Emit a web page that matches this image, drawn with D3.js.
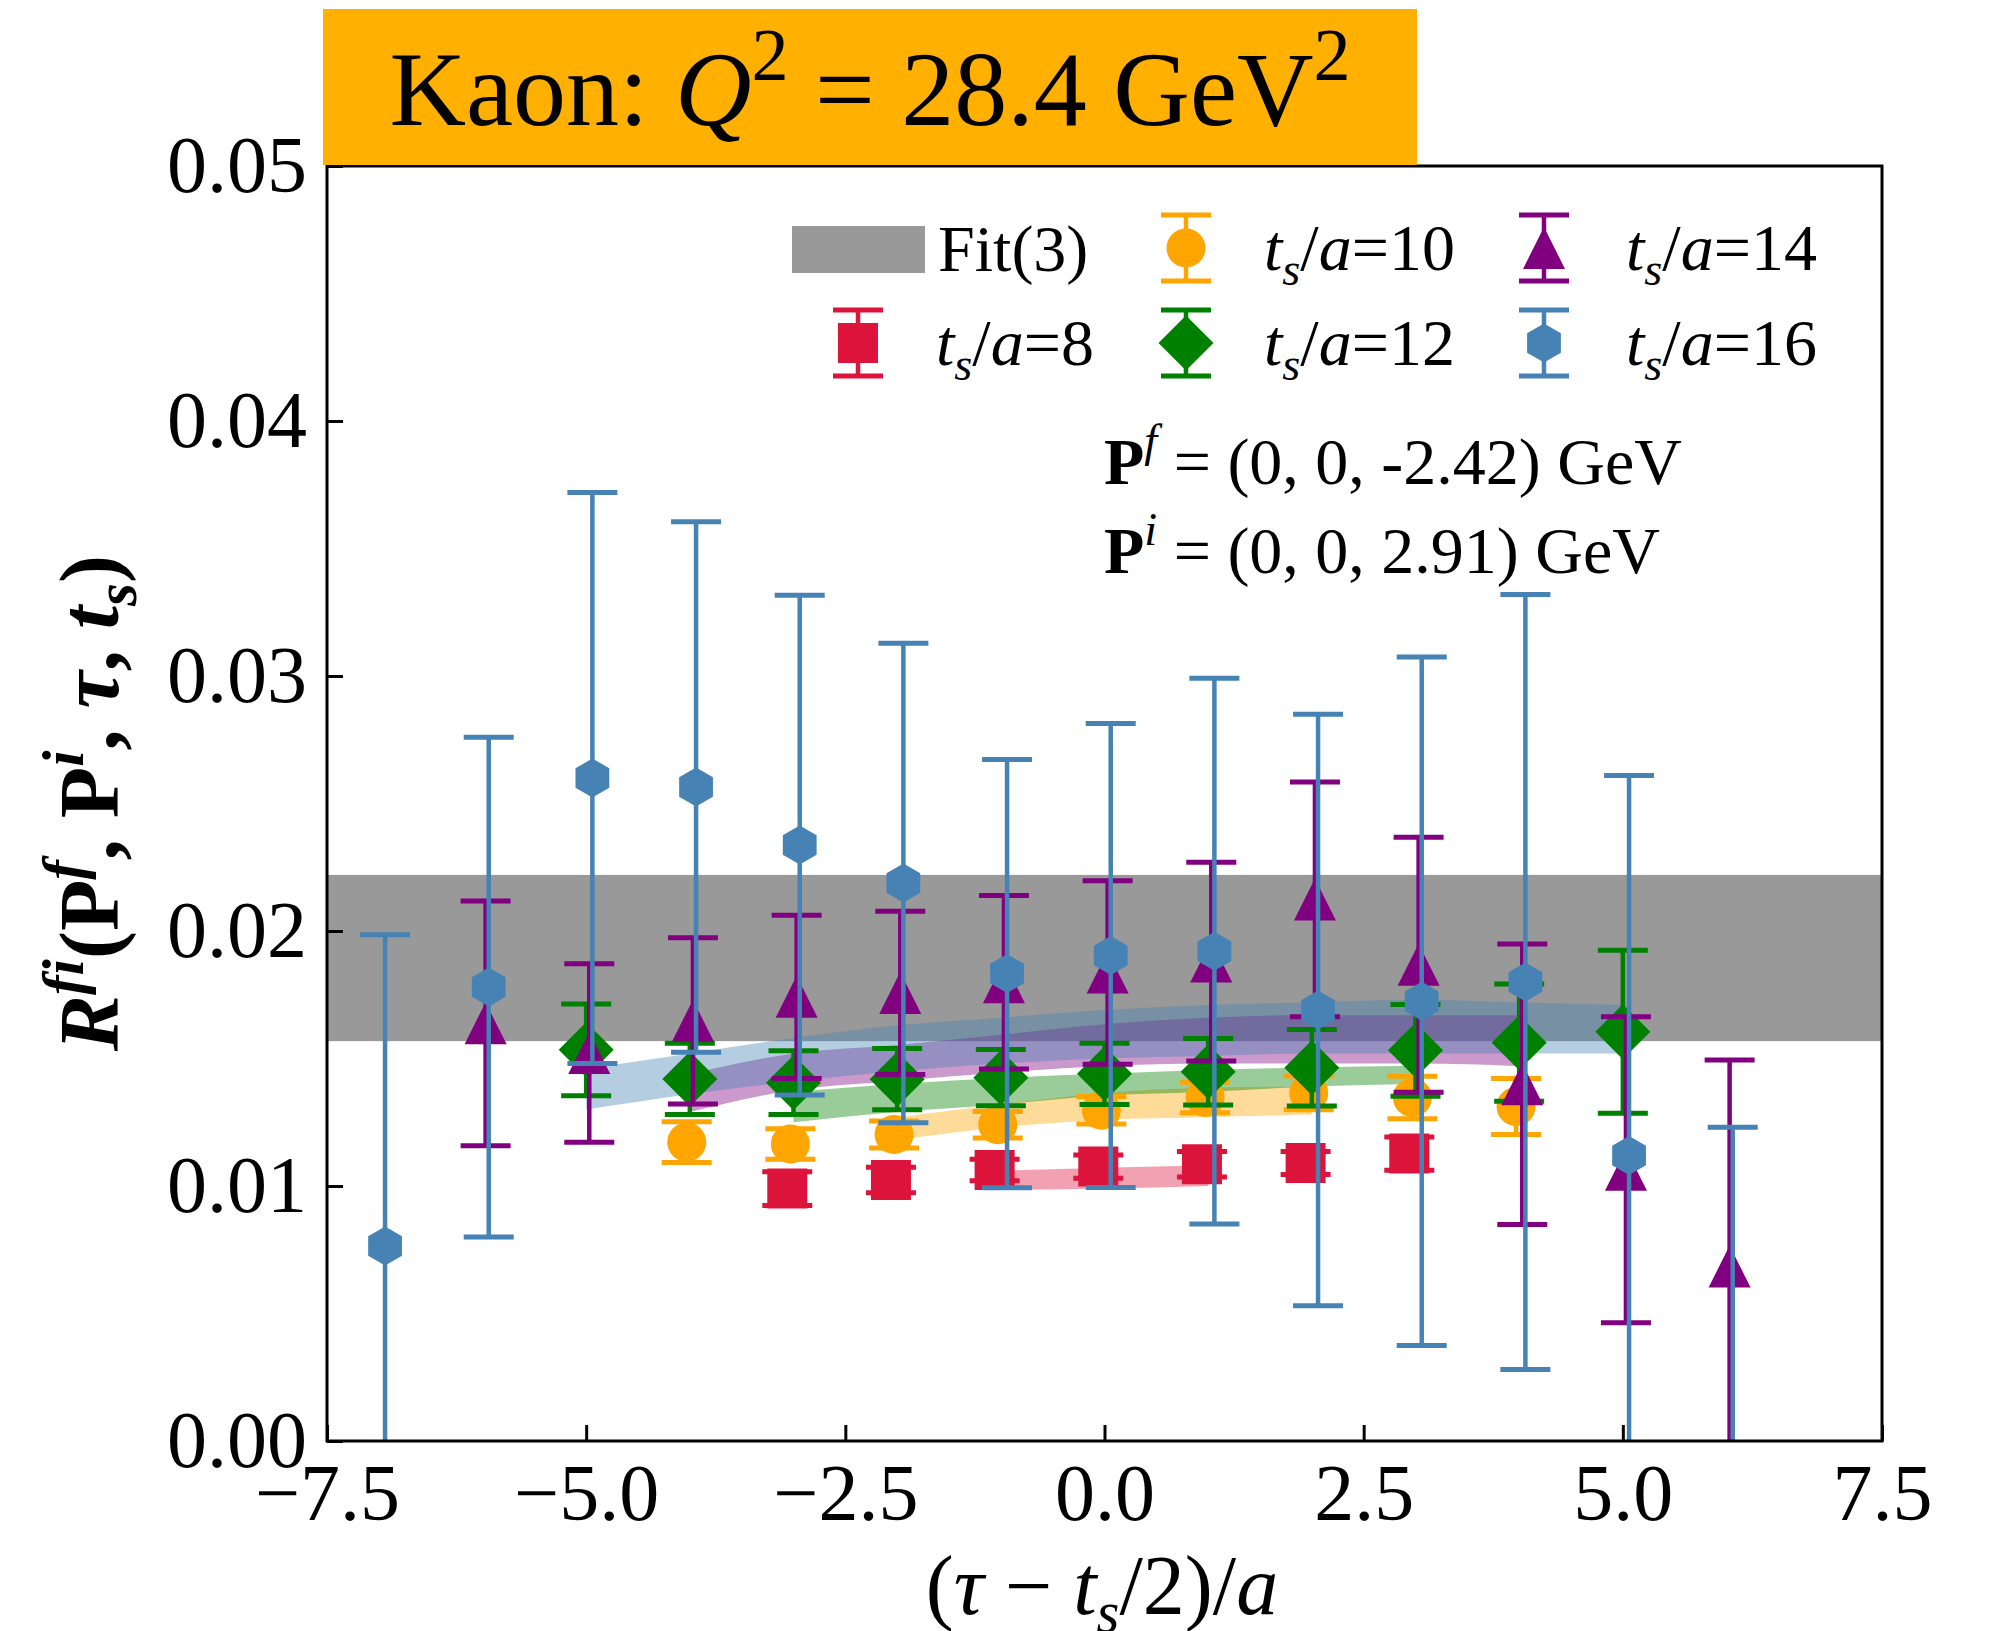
<!doctype html>
<html>
<head>
<meta charset="utf-8">
<style>
  body { margin: 0; background: #fff; }
  svg text { font-family: "Liberation Serif", "Times New Roman", serif; fill: #000; }
</style>
<script src="https://cdn.jsdelivr.net/npm/d3@7"></script>
</head>
<body>
<svg width="1994" height="1631"></svg>
<script>

// ---- data ----
var xTicks = [-7.5, -5, -2.5, 0, 2.5, 5, 7.5];
var yTicks = [0, 0.01, 0.02, 0.03, 0.04, 0.05];

var tau8  = [-3, -2, -1, 0, 1, 2, 3];
var val8  = [0.0099, 0.01024, 0.01063, 0.01076, 0.01085, 0.0109, 0.01127];
var err8  = [0.00066, 0.0005, 0.00042, 0.00046, 0.0005, 0.00045, 0.00065];

var tau10 = [-4, -3, -2, -1, 0, 1, 2, 3, 4];
var val10 = [0.01172, 0.01165, 0.01202, 0.0124, 0.01297, 0.01347, 0.01365, 0.01347, 0.01312];
var err10 = [0.0008, 0.0006, 0.00053, 0.00052, 0.00054, 0.0006, 0.00066, 0.00083, 0.0011];

var tau12 = [-5, -4, -3, -2, -1, 0, 1, 2, 3, 4, 5];
var val12 = [0.01534, 0.0142, 0.01405, 0.01419, 0.01425, 0.0144, 0.01448, 0.01464, 0.01532, 0.01562, 0.01605];
var err12 = [0.0018, 0.0014, 0.00125, 0.0012, 0.0011, 0.0012, 0.0013, 0.0015, 0.0018, 0.0023, 0.0032];

var tau14 = [-6, -5, -4, -3, -2, -1, 0, 1, 2, 3, 4, 5, 6];
var val14 = [0.01638, 0.01522, 0.01648, 0.01742, 0.01757, 0.01799, 0.01837, 0.0188, 0.02124, 0.01868, 0.01399, 0.01064, 0.00684];
var err14 = [0.0048, 0.0035, 0.00326, 0.0032, 0.0032, 0.0034, 0.0036, 0.0039, 0.0046, 0.005, 0.0055, 0.006, 0.0081];

var tau16 = [-7, -6, -5, -4, -3, -2, -1, 0, 1, 2, 3, 4, 5, 6];
var val16 = [0.00765, 0.0178, 0.026, 0.02565, 0.02337, 0.02188, 0.01833, 0.01904, 0.01921, 0.0169, 0.01725, 0.018, 0.0112, -0.0025];
var err16 = [0.0122, 0.0098, 0.0112, 0.0104, 0.0098, 0.0094, 0.0084, 0.0091, 0.0107, 0.0116, 0.0135, 0.0152, 0.0149, 0.0148];

// fit curves (lower / upper edge of each band)
var bandTau8  = [-1, 0, 1];
var bandLo8   = [0.00985, 0.0099, 0.01];
var bandHi8   = [0.0106, 0.01072, 0.0108];

var bandTau10 = [-2, -1, 0, 1, 2];
var bandLo10  = [0.0118, 0.0123, 0.0126, 0.0127, 0.0128];
var bandHi10  = [0.0127, 0.0132, 0.01365, 0.01385, 0.0139];

var bandTau12 = [-3, -2, -1, 0, 1, 2, 3];
var bandLo12  = [0.0125, 0.0129, 0.0132, 0.01355, 0.0137, 0.0139, 0.014];
var bandHi12  = [0.0137, 0.014, 0.01424, 0.0144, 0.01455, 0.01465, 0.01472];

var bandTau14 = [-4, -3, -2, -1, 0, 1, 2, 3, 4];
var bandLo14  = [0.0129, 0.01376, 0.01412, 0.01445, 0.0147, 0.0148, 0.0148, 0.0148, 0.0147];
var bandHi14  = [0.0144, 0.0152, 0.01553, 0.01593, 0.01634, 0.0166, 0.0167, 0.0167, 0.0167];

var bandTau16 = [-5, -4, -3, -2, -1, 0, 1, 2, 3, 4, 5];
var bandLo16  = [0.013, 0.0136, 0.0141, 0.0145, 0.0148, 0.015, 0.0151, 0.0152, 0.0152, 0.0152, 0.0152];
var bandHi16  = [0.0146, 0.0152, 0.0158, 0.0163, 0.0166, 0.0169, 0.0171, 0.0172, 0.0173, 0.0172, 0.0171];

var fitVal = 0.01894, fitErr = 0.00326;

var tsLabels = ["8", "10", "12", "14", "16"];
var colors   = ["#dc143c", "#ffa500", "#008000", "#800080", "#4682b4"];
var shapes   = ["square", "circle", "diamond", "triangle", "hexagon"];
var shifts   = [-0.06, -0.03, 0, 0.03, 0.06];

var series = [
    {tau: tau8,  val: val8,  err: err8,  bt: bandTau8,  lo: bandLo8,  hi: bandHi8},
    {tau: tau10, val: val10, err: err10, bt: bandTau10, lo: bandLo10, hi: bandHi10},
    {tau: tau12, val: val12, err: err12, bt: bandTau12, lo: bandLo12, hi: bandHi12},
    {tau: tau14, val: val14, err: err14, bt: bandTau14, lo: bandLo14, hi: bandHi14},
    {tau: tau16, val: val16, err: err16, bt: bandTau16, lo: bandLo16, hi: bandHi16}
];

// ---- layout ----
var svg = d3.select("svg");
var plotL = 327, plotR = 1882, plotT = 166, plotB = 1441;
var lineW = 4.5, capW = 5;

var x = d3.scaleLinear().domain([-7.5, 7.5]).range([plotL, plotR]);
var y = d3.scaleLinear().domain([0, 0.05]).range([plotB, plotT]);

svg.append("rect").attr("width", 1994).attr("height", 1631).attr("fill", "#fff");

svg.append("defs").append("clipPath").attr("id", "plotclip")
    .append("rect").attr("x", plotL).attr("y", plotT)
    .attr("width", plotR - plotL).attr("height", plotB - plotT);

var plot = svg.append("g").attr("clip-path", "url(#plotclip)");

// marker paths, size ~40px like the original
function markerPath(shape) {
    var p;
    if (shape == "square") return "M-20,-20H20V20H-20Z";
    if (shape == "circle") return "M19.5,0A19.5,19.5 0 1,1 -19.5,0A19.5,19.5 0 1,1 19.5,0Z";
    if (shape == "diamond") return "M0,-27.5L27.5,0L0,27.5L-27.5,0Z";
    if (shape == "triangle") return "M0,-21L21,21L-21,21Z";
    p = [];
    for (var k = 0; k < 6; k++) {
        var a = -Math.PI / 2 + k * Math.PI / 3;
        p.push([19.5 * Math.cos(a), 19.5 * Math.sin(a)]);
    }
    return "M" + p.map(function(q) { return q[0].toFixed(2) + "," + q[1].toFixed(2); }).join("L") + "Z";
}

// grey fit band
plot.append("rect")
    .attr("x", plotL).attr("width", plotR - plotL)
    .attr("y", y(fitVal + fitErr))
    .attr("height", y(fitVal - fitErr) - y(fitVal + fitErr))
    .attr("fill", "#999999");

// fit-curve bands
series.forEach(function(s, i) {
    var pts = s.bt.map(function(t, j) { return {t: t, lo: s.lo[j], hi: s.hi[j]}; });
    var area = d3.area()
        .x(function(d) { return x(d.t); })
        .y0(function(d) { return y(d.lo); })
        .y1(function(d) { return y(d.hi); })
        .curve(d3.curveMonotoneX);
    plot.append("path").datum(pts)
        .attr("d", area)
        .attr("fill", colors[i])
        .attr("fill-opacity", 0.4);
});

// error bars + markers
series.forEach(function(s, i) {
    var pts = s.tau.map(function(t, j) { return {t: t + shifts[i], v: s.val[j], e: s.err[j]}; });
    var g = plot.append("g").attr("stroke", colors[i]).attr("fill", colors[i]);
    var eb = g.selectAll(".eb").data(pts).enter().append("g").attr("class", "eb");
    eb.append("line")
        .attr("x1", function(d) { return x(d.t); })
        .attr("x2", function(d) { return x(d.t); })
        .attr("y1", function(d) { return y(d.v - d.e); })
        .attr("y2", function(d) { return y(d.v + d.e); })
        .attr("stroke-width", lineW);
    eb.append("line")
        .attr("x1", function(d) { return x(d.t) - 25; })
        .attr("x2", function(d) { return x(d.t) + 25; })
        .attr("y1", function(d) { return y(d.v + d.e); })
        .attr("y2", function(d) { return y(d.v + d.e); })
        .attr("stroke-width", capW);
    eb.append("line")
        .attr("x1", function(d) { return x(d.t) - 25; })
        .attr("x2", function(d) { return x(d.t) + 25; })
        .attr("y1", function(d) { return y(d.v - d.e); })
        .attr("y2", function(d) { return y(d.v - d.e); })
        .attr("stroke-width", capW);
    eb.append("path")
        .attr("d", markerPath(shapes[i]))
        .attr("stroke", "none")
        .attr("transform", function(d) { return "translate(" + x(d.t) + "," + y(d.v) + ")"; });
});

// axes
var xAxis = svg.append("g")
    .attr("transform", "translate(0," + plotB + ")")
    .call(d3.axisBottom(x).tickValues(xTicks).tickFormat(d3.format(".1f"))
        .tickSizeInner(-16).tickSizeOuter(0).tickPadding(22));
var yAxis = svg.append("g")
    .attr("transform", "translate(" + plotL + ",0)")
    .call(d3.axisLeft(y).tickValues(yTicks).tickFormat(d3.format(".2f"))
        .tickSizeInner(-16).tickSizeOuter(0).tickPadding(20));
[xAxis, yAxis].forEach(function(a) {
    a.select(".domain").remove();
    a.selectAll(".tick line").attr("stroke", "#000").attr("stroke-width", 3);
    a.selectAll(".tick text")
        .attr("font-size", 80)
        .attr("font-family", "'Liberation Serif', 'Times New Roman', serif")
        .attr("fill", "#000");
});

svg.append("rect")
    .attr("x", plotL).attr("y", plotT)
    .attr("width", plotR - plotL).attr("height", plotB - plotT)
    .attr("fill", "none").attr("stroke", "#000").attr("stroke-width", 3);

// rich text helper: parts = [{t, i, b, sup, sub}]
function rich(textSel, parts, size) {
    var cur = 0;
    parts.forEach(function(p) {
        var ts = textSel.append("tspan").text(p.t);
        var target = p.sup ? -0.42 * size : (p.sub ? 0.22 * size : 0);
        if (target != cur) ts.attr("dy", target - cur);
        cur = target;
        if (p.sup || p.sub) ts.attr("font-size", size * 0.7);
        if (p.i) ts.attr("font-style", "italic");
        if (p.b) ts.attr("font-weight", "bold");
    });
    return textSel;
}

// axis labels
rich(svg.append("text")
        .attr("x", 1102).attr("y", 1614)
        .attr("text-anchor", "middle").attr("font-size", 84),
    [{t: "("}, {t: "\u03c4", i: 1}, {t: " \u2212 "}, {t: "t", i: 1}, {t: "s", i: 1, sub: 1},
     {t: "/2)/"}, {t: "a", i: 1}], 84);

rich(svg.append("text")
        .attr("transform", "translate(118,803) rotate(-90)")
        .attr("text-anchor", "middle").attr("font-size", 84).attr("font-weight", "bold"),
    [{t: "R", i: 1, b: 1}, {t: "fi", i: 1, sup: 1, b: 1}, {t: "(", b: 1}, {t: "P", b: 1},
     {t: "f", i: 1, sup: 1, b: 1}, {t: ", ", b: 1}, {t: "P", b: 1}, {t: "i", i: 1, sup: 1, b: 1},
     {t: ", ", b: 1}, {t: "\u03c4", i: 1, b: 1}, {t: ", ", b: 1}, {t: "t", i: 1, b: 1},
     {t: "s", i: 1, sub: 1, b: 1}, {t: ")", b: 1}], 84);

// legend
var legend = svg.append("g");
var fs = 66;
legend.append("rect")
    .attr("x", 792).attr("y", 226).attr("width", 133).attr("height", 47)
    .attr("fill", "#999999");
legend.append("text").attr("x", 938).attr("y", 271).attr("font-size", fs).text("Fit(3)");

var legPos = [[858, 343, 936], [1186, 248, 1264], [1186, 343, 1264], [1544, 248, 1626], [1544, 343, 1626]];
tsLabels.forEach(function(lab, i) {
    var cx = legPos[i][0], cy = legPos[i][1];
    var lg = legend.append("g").attr("stroke", colors[i]).attr("fill", colors[i]);
    lg.append("line").attr("x1", cx).attr("x2", cx).attr("y1", cy - 33).attr("y2", cy + 33).attr("stroke-width", lineW);
    lg.append("line").attr("x1", cx - 25).attr("x2", cx + 25).attr("y1", cy - 33).attr("y2", cy - 33).attr("stroke-width", capW);
    lg.append("line").attr("x1", cx - 25).attr("x2", cx + 25).attr("y1", cy + 33).attr("y2", cy + 33).attr("stroke-width", capW);
    lg.append("path").attr("d", markerPath(shapes[i])).attr("stroke", "none")
        .attr("transform", "translate(" + cx + "," + cy + ")");
    rich(legend.append("text").attr("x", legPos[i][2]).attr("y", cy + 22).attr("font-size", fs),
        [{t: "t", i: 1}, {t: "s", i: 1, sub: 1}, {t: "/"}, {t: "a", i: 1}, {t: "=" + lab}], fs);
});

// momentum annotation
rich(svg.append("text").attr("x", 1104).attr("y", 484).attr("font-size", 66),
    [{t: "P", b: 1}, {t: "f", i: 1, sup: 1}, {t: " = (0, 0, -2.42) GeV"}], 66);
rich(svg.append("text").attr("x", 1104).attr("y", 573).attr("font-size", 66),
    [{t: "P", b: 1}, {t: "i", i: 1, sup: 1}, {t: " = (0, 0, 2.91) GeV"}], 66);

// title box
svg.append("rect")
    .attr("x", 323).attr("y", 9).attr("width", 1094).attr("height", 156)
    .attr("fill", "#ffb000");
rich(svg.append("text")
        .attr("x", 870).attr("y", 125)
        .attr("text-anchor", "middle").attr("font-size", 106),
    [{t: "Kaon: "}, {t: "Q", i: 1}, {t: "2", sup: 1}, {t: " = 28.4 GeV"}, {t: "2", sup: 1}], 106);

</script>
</body>
</html>
